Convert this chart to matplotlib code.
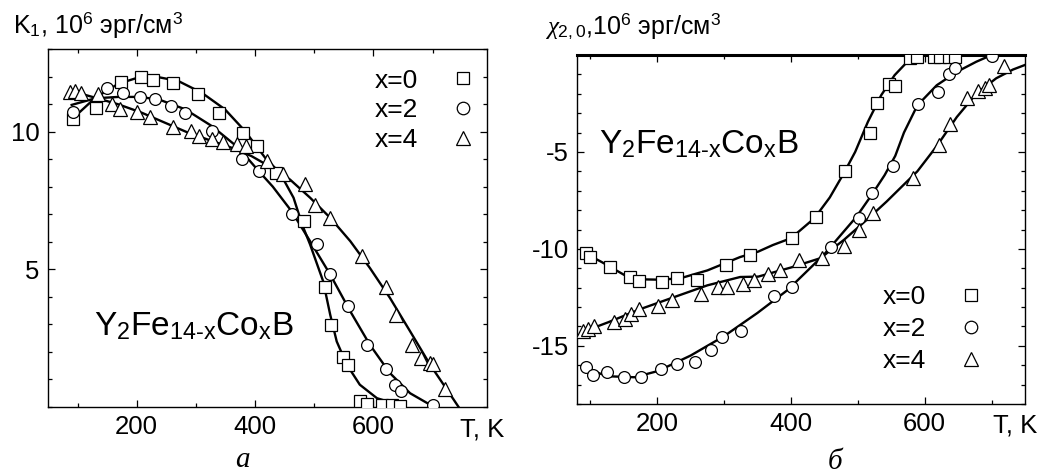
import matplotlib
matplotlib.use("Agg")
import matplotlib.pyplot as plt
from matplotlib.lines import Line2D
from matplotlib.ticker import FixedLocator, MultipleLocator

plt.rcParams["font.family"] = ["Liberation Sans", "DejaVu Sans"]
plt.rcParams["mathtext.fontset"] = "custom"
plt.rcParams["mathtext.rm"] = "Liberation Sans"
plt.rcParams["mathtext.it"] = "Liberation Serif:italic"
plt.rcParams["mathtext.sf"] = "Liberation Sans"
plt.rcParams["axes.unicode_minus"] = False

# --- panel a: K1(T) ---
k_sq_t = [93, 131, 173, 207, 228, 261, 304, 339, 379, 403, 435, 482, 518, 528,
          548, 557, 577, 589, 614, 631, 645]
k_sq = [10.47, 10.87, 11.8, 12.0, 11.86, 11.78, 11.38, 10.66, 9.96, 9.47, 8.5,
        6.77, 4.35, 2.99, 1.81, 1.51, 0.2, 0.1, 0.08, 0.06, 0.05]
k_ci_t = [93, 149, 176, 206, 231, 258, 282, 328, 378, 406, 463, 504, 526, 557,
          590, 621, 637, 647, 701]
k_ci = [10.71, 11.6, 11.41, 11.26, 11.17, 10.93, 10.69, 10.02, 8.99, 8.57, 7.0,
        5.92, 4.83, 3.66, 2.26, 1.39, 0.81, 0.57, 0.06]
k_tr_t = [87, 96, 105, 134, 158, 172, 200, 223, 262, 291, 305, 328, 345, 369,
          385, 420, 448, 484, 501, 526, 580, 622, 638, 666, 681, 696, 701, 721]
k_tr = [11.43, 11.47, 11.39, 11.37, 11.0, 10.82, 10.7, 10.52, 10.16, 10.04,
        9.85, 9.73, 9.61, 9.55, 9.49, 8.93, 8.47, 8.08, 7.35, 6.87, 5.47, 4.35,
        3.35, 2.26, 1.78, 1.6, 1.56, 0.66]

# fitted curves
k_fit0_t = [93, 130, 169, 208, 231, 270, 310, 349, 383, 417, 442, 465, 480, 493,
            515, 527, 538, 555, 577, 606, 651]
k_fit0 = [10.5, 11.23, 11.74, 12.0, 12.0, 11.84, 11.41, 10.81, 10.02, 9.05, 8.5,
          7.6, 6.6, 5.9, 4.57, 3.35, 2.38, 1.54, 0.81, 0.32, 0.02]
k_fit2_t = [90, 130, 169, 208, 242, 282, 327, 372, 406, 430, 462, 493, 527, 561,
            594, 628, 662, 696, 707]
k_fit2 = [10.97, 11.21, 11.26, 11.26, 11.13, 10.81, 10.2, 9.41, 8.57, 8.0, 7.1,
          6.02, 4.81, 3.47, 2.26, 1.23, 0.5, 0.08, 0.0]
k_fit4_t = [90, 130, 169, 208, 248, 287, 327, 361, 394, 434, 459, 493, 527, 561,
            594, 628, 662, 696, 730, 744]
k_fit4 = [11.47, 11.23, 10.99, 10.69, 10.32, 9.96, 9.66, 9.41, 9.11, 8.62, 8.26,
          7.6, 6.87, 6.02, 5.05, 3.96, 2.75, 1.53, 0.45, 0.0]

# --- panel б: chi_2,0(T) ---
c_sq_t = [93, 99, 130, 159, 173, 207, 229, 260, 303, 339, 401, 437, 481, 518,
          529, 546, 556, 578, 589, 614, 623, 636, 645]
c_sq = [-10.22, -10.42, -10.94, -11.45, -11.68, -11.71, -11.49, -11.59, -10.85,
        -10.34, -9.44, -8.36, -6.0, -4.0, -2.47, -1.51, -1.61, -0.15, -0.1,
        -0.1, -0.1, -0.1, -0.1]
c_ci_t = [94, 104, 125, 151, 176, 205, 229, 257, 280, 297, 326, 374, 402, 460,
          501, 521, 553, 590, 620, 636, 646, 700]
c_ci = [-16.1, -16.5, -16.33, -16.62, -16.62, -16.19, -15.93, -15.81, -15.24,
        -14.52, -14.21, -12.44, -11.95, -9.92, -8.42, -7.13, -5.7, -2.54, -1.9,
        -1.0, -0.65, -0.04]
c_tr_t = [89, 97, 106, 135, 152, 161, 173, 201, 222, 266, 291, 304, 329, 345,
          366, 384, 412, 447, 480, 501, 523, 582, 621, 638, 664, 680, 690, 696,
          718]
c_tr = [-14.21, -14.12, -13.98, -13.78, -13.61, -13.35, -13.09, -12.92, -12.66,
        -12.31, -11.97, -11.97, -11.8, -11.59, -11.3, -11.1, -10.57, -10.48,
        -9.85, -9.0, -8.15, -6.34, -4.66, -3.54, -2.21, -1.87, -1.7, -1.56,
        -0.56]

c_fit0_t = [92, 117, 152, 176, 206, 235, 275, 324, 351, 373, 400, 435, 458, 479,
            496, 515, 535, 555, 574, 589]
c_fit0 = [-10.22, -10.68, -11.37, -11.57, -11.59, -11.51, -11.11, -10.42,
          -10.14, -9.8, -9.45, -8.42, -7.35, -6.1, -5.0, -3.45, -2.07, -1.04,
          -0.35, 0.0]
c_fit2_t = [93, 127, 166, 201, 250, 300, 350, 395, 449, 498, 521, 540, 556, 569,
            589, 618, 648, 677, 700]
c_fit2 = [-16.19, -16.57, -16.62, -16.3, -15.5, -14.5, -13.3, -12.12, -10.31,
          -8.34, -7.2, -6.2, -5.2, -4.0, -2.6, -1.56, -0.87, -0.35, 0.0]
c_fit4_t = [88, 127, 176, 225, 275, 324, 351, 400, 444, 479, 513, 543, 589, 618,
            648, 677, 707, 732, 751]
c_fit4 = [-14.29, -13.78, -13.09, -12.49, -11.88, -11.45, -11.43, -10.96,
          -10.48, -9.54, -8.51, -7.56, -6.0, -4.7, -3.2, -2.0, -1.2, -0.75,
          -0.5]

labels = ["x=0", "x=2", "x=4"]
markers = ["s", "o", "^"]

formula = (r"Y$_{\mathregular{2}}$Fe$_{\text{14-x}}$"
           r"Co$_{\mathregular{x}}$B")

fig = plt.figure(figsize=(10.46, 4.74), dpi=100)
W, H = 1046, 474


def box(l, t, r, b):
    return [l / W, 1 - b / H, (r - l) / W, (b - t) / H]


def style(ax, xmaj, ymaj):
    ax.xaxis.set_major_locator(FixedLocator(xmaj))
    ax.yaxis.set_major_locator(FixedLocator(ymaj))
    ax.xaxis.set_minor_locator(MultipleLocator(100))
    ax.yaxis.set_minor_locator(MultipleLocator(1))
    ax.tick_params(which="both", direction="in", top=True, right=True,
                   labelsize=18.5, width=0.9, pad=6)
    ax.tick_params(which="major", length=5)
    ax.tick_params(which="minor", length=3)
    for s in ax.spines.values():
        s.set_linewidth(1.0)


def draw(ax, pts, fits):
    for (t, v), m in zip(pts, markers):
        ax.plot(t, v, m, ms=8.5 if m != "^" else 9.5, mfc="white", mec="black",
                mew=0.9, ls="none", zorder=3)
    for t, v in fits:
        ax.plot(t, v, "-", color="black", lw=1.7, zorder=2)


def legend(ax, anchor, spacing):
    handles = [Line2D([], [], ls="none", marker=m, ms=10 if m == "^" else 9,
                      mfc="white", mec="black", mew=0.9) for m in markers]
    ax.legend(handles, labels, loc="upper right", bbox_to_anchor=anchor,
              frameon=False, markerfirst=False, fontsize=19, handlelength=1.0,
              handletextpad=1.2, labelspacing=spacing, borderaxespad=0.0)


# panel a
ax1 = fig.add_axes(box(48, 49, 487, 407))
draw(ax1, [(k_sq_t, k_sq), (k_ci_t, k_ci), (k_tr_t, k_tr)],
     [(k_fit0_t, k_fit0), (k_fit2_t, k_fit2), (k_fit4_t, k_fit4)])
ax1.set_xlim(50, 792)
ax1.set_ylim(0, 13)
style(ax1, [200, 400, 600], [5, 10])
legend(ax1, (1.0, 0.975), 0.22)
ax1.text(0.105, 0.2, formula, transform=ax1.transAxes, fontsize=24)

# panel б
ax2 = fig.add_axes(box(577, 55, 1025, 404))
draw(ax2, [(c_sq_t, c_sq), (c_ci_t, c_ci), (c_tr_t, c_tr)],
     [(c_fit0_t, c_fit0), (c_fit2_t, c_fit2), (c_fit4_t, c_fit4)])
ax2.set_xlim(80, 750)
ax2.set_ylim(-18, 0)
style(ax2, [200, 400, 600], [-15, -10, -5])
ax2.spines["top"].set_linewidth(2.2)
legend(ax2, (0.933, 0.37), 0.3)
ax2.text(0.05, 0.72, formula, transform=ax2.transAxes, fontsize=24)

# axis captions
fig.text(13 / W, 1 - 33 / H,
         r"K$_{\mathregular{1}}$, 10$^{\mathregular{6}}$ эрг/см$^{\mathregular{3}}$",
         fontsize=18, ha="left", va="baseline")
fig.text(545 / W, 1 - 33 / H,
         r"$\chi_{\mathregular{2,0}}$,10$^{\mathregular{6}}$ эрг/см$^{\mathregular{3}}$",
         fontsize=18, ha="left", va="baseline")
fig.text(482 / W, 1 - 430 / H, "T, K", fontsize=18.5, ha="center", va="center")
fig.text(1015 / W, 1 - 425 / H, "T, K", fontsize=18.5, ha="center", va="center")
fig.text(242 / W, 1 - 460 / H, "а", fontsize=21, ha="center", va="center",
         family="Liberation Serif", style="italic")
fig.text(835 / W, 1 - 462 / H, "б", fontsize=21, ha="center", va="center",
         family="Liberation Serif", style="italic")

fig.savefig("out.png", dpi=100)
